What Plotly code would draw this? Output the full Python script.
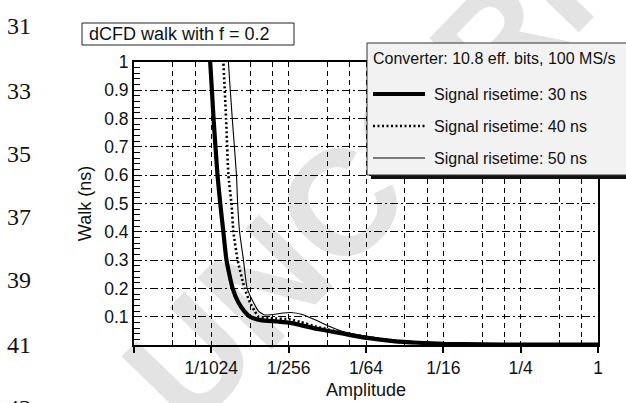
import plotly.graph_objects as go

# dCFD walk versus pulse amplitude (full scale = 1), three signal rise times
amp_30ns = [0.000899, 0.000957, 0.001016, 0.001091, 0.001146, 0.001211, 0.001281,
            0.001430, 0.001587, 0.001761, 0.001953, 0.002356, 0.003173, 0.004043,
            0.004845, 0.006346, 0.008789, 0.011842, 0.01595, 0.02538, 0.03983,
            0.0638, 0.125, 0.25, 1.0]
walk_30ns = [1.12, 1.0, 0.8, 0.6, 0.5, 0.4, 0.3,
             0.2, 0.15, 0.12, 0.1, 0.088, 0.083, 0.078,
             0.07, 0.058, 0.046, 0.035, 0.025, 0.014, 0.008,
             0.004, 0.002, 0.0015, 0.001]

amp_40ns = [0.001166, 0.001211, 0.001272, 0.001326, 0.001401, 0.001451, 0.001565,
            0.001773, 0.001953, 0.002123, 0.002275, 0.00282, 0.004043, 0.004845,
            0.006346, 0.008789, 0.01184, 0.01595, 0.02538, 0.03983, 0.0638,
            0.125, 0.25, 1.0]
walk_40ns = [1.12, 1.0, 0.8, 0.6, 0.5, 0.4, 0.3,
             0.2, 0.15, 0.12, 0.1, 0.095, 0.09, 0.081,
             0.066, 0.05, 0.038, 0.028, 0.016, 0.009, 0.004,
             0.002, 0.0015, 0.001]

amp_50ns = [0.001289, 0.001326, 0.001421, 0.001533, 0.001565, 0.00162, 0.001737,
            0.001857, 0.002079, 0.002275, 0.002539, 0.00296, 0.00352, 0.004043,
            0.004981, 0.006346, 0.007867, 0.010885, 0.017094, 0.02538, 0.03983,
            0.0866, 0.1768, 1.0]
walk_50ns = [1.12, 1.0, 0.8, 0.6, 0.5, 0.4, 0.3,
             0.2, 0.15, 0.12, 0.106, 0.108, 0.113, 0.115,
             0.108, 0.088, 0.068, 0.045, 0.028, 0.016, 0.01,
             0.004, 0.0025, 0.002]

series_names = ["Signal risetime: 30 ns", "Signal risetime: 40 ns", "Signal risetime: 50 ns"]

x_tick_vals = [1 / 4096, 1 / 1024, 1 / 256, 1 / 64, 1 / 16, 1 / 4, 1]
x_tick_text = ["", "1/1024", "1/256", "1/64", "1/16", "1/4", "1"]
x_minor_vals = [2 / 4096, 3 / 4096, 2 / 1024, 3 / 1024, 2 / 256, 3 / 256,
                2 / 64, 3 / 64, 2 / 16, 3 / 16, 2 / 4, 3 / 4]
y_tick_vals = [0.1, 0.2, 0.3, 0.4, 0.5, 0.6, 0.7, 0.8, 0.9, 1.0]
y_tick_text = ["0.1", "0.2", "0.3", "0.4", "0.5", "0.6", "0.7", "0.8", "0.9", "1"]

line_numbers = ["31", "33", "35", "37", "39", "41", "43"]
line_number_y = [26, 91, 154, 217, 280, 345, 408]

title_text = "dCFD walk with f = 0.2"
legend_title = "Converter: 10.8 eff. bits, 100 MS/s"
watermark = "UNCORRECTED PROOF"

W, H = 626, 403
ML, MR, MT, MB = 134, 28, 62, 58
PW, PH = W - ML - MR, H - MT - MB
SANS = "Liberation Sans, Arial, Helvetica, sans-serif"


def px(x, y):
    """Pixel position on the page -> paper coordinates of the plot area."""
    return (x - ML) / PW, (H - MB - y) / PH


styles = [
    dict(color="black", width=4.2),
    dict(color="black", width=2.6, dash="2px,2.5px"),
    dict(color="black", width=1.1),
]

fig = go.Figure()
for xs, ys, name, st in zip([amp_30ns, amp_40ns, amp_50ns],
                            [walk_30ns, walk_40ns, walk_50ns],
                            series_names, styles):
    fig.add_trace(go.Scatter(x=xs, y=ys, name=name, mode="lines",
                             line=dict(shape="spline", smoothing=0.5, **st),
                             showlegend=False))

shapes = []
annotations = []

# faint diagonal proof watermark, beneath the grid
wx0, wy0 = px(142, 389)
wx1, wy1 = px(142 + 0.695 * 500, 389 - 0.719 * 500)
shapes.append(dict(type="line", xref="paper", yref="paper", layer="below",
                   x0=wx0, y0=wy0, x1=wx1, y1=wy1,
                   line=dict(color="rgba(0,0,0,0)", width=0),
                   label=dict(text=watermark, textposition="start",
                              xanchor="left", yanchor="middle", padding=0,
                              font=dict(family=SANS, size=150, color="#e3e3e3",
                                        weight="bold"))))

# title box
tx0, ty0 = px(82, 45)
tx1, ty1 = px(294, 23)
shapes.append(dict(type="rect", xref="paper", yref="paper", layer="above",
                   x0=tx0, y0=ty0, x1=tx1, y1=ty1,
                   fillcolor="white", line=dict(color="#222", width=1)))
ax, ay = px(87, 34)
annotations.append(dict(text=title_text, x=ax, y=ay, xref="paper", yref="paper",
                        xanchor="left", yanchor="middle", showarrow=False,
                        font=dict(family=SANS, size=18, color="#111")))

# legend panel with drop shadow
sx0, sy0 = px(371, 179)
sx1, sy1 = px(660, 47)
shapes.append(dict(type="rect", xref="paper", yref="paper", layer="above",
                   x0=sx0, y0=sy0, x1=sx1, y1=sy1,
                   fillcolor="#111", line=dict(width=0)))
lx0, ly0 = px(367, 175)
lx1, ly1 = px(655, 43)
shapes.append(dict(type="rect", xref="paper", yref="paper", layer="above",
                   x0=lx0, y0=ly0, x1=lx1, y1=ly1,
                   fillcolor="#f2f2f2", line=dict(color="#333", width=1)))
ax, ay = px(371, 59)
annotations.append(dict(text=legend_title, x=ax, y=ay, xref="paper", yref="paper",
                        xanchor="left", yanchor="middle", showarrow=False,
                        font=dict(family=SANS, size=16, color="#111")))
for row_y, name, st in zip([94, 126, 158], series_names, styles):
    x0, y0 = px(373, row_y)
    x1, _ = px(425, row_y)
    shapes.append(dict(type="line", xref="paper", yref="paper", layer="above",
                       x0=x0, y0=y0, x1=x1, y1=y0, line=st))
    ax, ay = px(432, row_y)
    annotations.append(dict(text=name, x=ax, y=ay, xref="paper", yref="paper",
                            xanchor="left", yanchor="middle", showarrow=False,
                            font=dict(family=SANS, size=16, color="#111")))

# manuscript line numbers in the left margin
for lab, yy in zip(line_numbers, line_number_y):
    ax, ay = px(19, yy)
    annotations.append(dict(text=lab, x=ax, y=ay, xref="paper", yref="paper",
                            xanchor="center", yanchor="middle", showarrow=False,
                            font=dict(family="Liberation Serif, Times New Roman, serif",
                                      size=24, color="#111")))

fig.update_layout(
    width=W, height=H,
    margin=dict(l=ML, r=MR, t=MT, b=MB, autoexpand=False),
    paper_bgcolor="white", plot_bgcolor="white",
    font=dict(family=SANS, color="#111"),
    shapes=shapes, annotations=annotations,
)

fig.update_xaxes(
    type="log", range=[-3.612359947967774, 0],
    tickmode="array", tickvals=x_tick_vals, ticktext=x_tick_text,
    ticks="outside", ticklen=6, tickwidth=1.5, tickcolor="black",
    tickfont=dict(family=SANS, size=17.5, color="#111"),
    showgrid=True, gridcolor="black", gridwidth=1, griddash="5px,4px",
    minor=dict(tickmode="array", tickvals=x_minor_vals, ticks="inside",
               ticklen=5, tickcolor="black", tickwidth=1,
               showgrid=True, gridcolor="black", gridwidth=1, griddash="5px,4px"),
    showline=True, linecolor="black", linewidth=2, mirror=True,
    zeroline=False,
    title=dict(text="Amplitude", font=dict(family=SANS, size=18, color="#111"),
               standoff=6),
)

fig.update_yaxes(
    range=[0, 1],
    tickmode="array", tickvals=y_tick_vals, ticktext=y_tick_text,
    ticks="inside", ticklen=7, tickwidth=1, tickcolor="black",
    tickfont=dict(family=SANS, size=17.5, color="#111"),
    showgrid=True, gridcolor="black", gridwidth=1, griddash="8px,3px,2px,3px",
    minor=dict(dtick=0.02, ticks="inside", ticklen=6, tickcolor="black",
               tickwidth=1, showgrid=False),
    showline=True, linecolor="black", linewidth=2, mirror=True,
    zeroline=False,
    title=dict(text="Walk (ns)", font=dict(family=SANS, size=18, color="#111"),
               standoff=8),
)

fig.write_html("out.html")
